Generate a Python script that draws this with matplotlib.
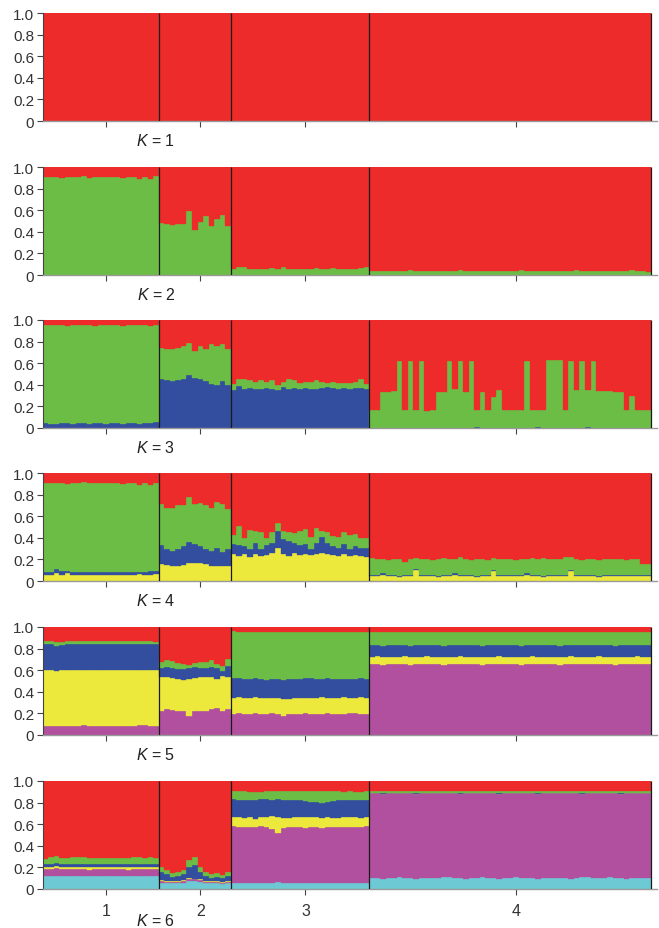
import numpy as np
import matplotlib.pyplot as plt

plt.rcParams['font.family'] = ['Liberation Sans', 'DejaVu Sans']
plt.rcParams['mathtext.fontset'] = 'custom'
plt.rcParams['mathtext.it'] = 'Liberation Sans:italic'
plt.rcParams['mathtext.rm'] = 'Liberation Sans'

GROUP_SIZES = [21, 13, 25, 51]
GROUP_LABELS = ['1', '2', '3', '4']
K_VALUES = [1, 2, 3, 4, 5, 6]

COLORS = {'red': '#EC2B2A', 'green': '#6BBD45', 'blue': '#334D9F',
          'yellow': '#EDE83C', 'magenta': '#B0509E', 'cyan': '#6DCAD5'}

# Cumulative upper edge of each cluster, bottom cluster first.
# The top cluster (red) always fills up to 1.

# K = 2
k2_green = ([0.91, 0.91, 0.91, 0.90, 0.91, 0.91, 0.91, 0.92, 0.90, 0.91, 0.91,
             0.91, 0.91, 0.91, 0.90, 0.91, 0.91, 0.89, 0.91, 0.89, 0.92]
            + [0.48, 0.47, 0.46, 0.47, 0.47, 0.59, 0.42, 0.49, 0.55, 0.45, 0.52, 0.56, 0.45]
            + [0.06, 0.07, 0.07, 0.06, 0.06, 0.06, 0.06, 0.065, 0.06, 0.07,
               0.055, 0.055, 0.06, 0.06, 0.06, 0.065, 0.06, 0.06, 0.065, 0.06,
               0.055, 0.055, 0.06, 0.065, 0.07]
            + [0.04, 0.035, 0.04, 0.04, 0.035, 0.04, 0.04, 0.045, 0.04, 0.035,
               0.04, 0.04, 0.04, 0.035, 0.04, 0.04, 0.045, 0.04, 0.04, 0.035,
               0.04, 0.04, 0.04, 0.035, 0.04, 0.04, 0.04, 0.045, 0.04, 0.035,
               0.04, 0.04, 0.04, 0.04, 0.035, 0.04, 0.04, 0.045, 0.04, 0.04,
               0.035, 0.04, 0.04, 0.04, 0.035, 0.04, 0.04, 0.045, 0.04, 0.04, 0.03])

# K = 3
k3_blue = ([0.05, 0.04, 0.04, 0.05, 0.05, 0.04, 0.05, 0.05, 0.04, 0.05, 0.05,
            0.04, 0.05, 0.05, 0.04, 0.05, 0.05, 0.04, 0.05, 0.05, 0.06]
           + [0.455, 0.44, 0.435, 0.44, 0.45, 0.495, 0.465, 0.455, 0.435, 0.41, 0.40, 0.435, 0.40]
           + [0.35, 0.39, 0.36, 0.37, 0.36, 0.36, 0.37, 0.36, 0.35, 0.38,
              0.36, 0.37, 0.36, 0.37, 0.36, 0.36, 0.37, 0.38, 0.37, 0.36,
              0.37, 0.36, 0.37, 0.37, 0.36]
           + [0.004, 0.004, 0.004, 0.004, 0.004, 0.004, 0.004, 0.004, 0.004, 0.004,
              0.004, 0.004, 0.004, 0.004, 0.004, 0.004, 0.004, 0.004, 0.004, 0.01,
              0.004, 0.004, 0.004, 0.004, 0.004, 0.004, 0.004, 0.004, 0.004, 0.004,
              0.01, 0.004, 0.004, 0.004, 0.004, 0.004, 0.004, 0.004, 0.004, 0.01,
              0.004, 0.004, 0.004, 0.004, 0.004, 0.004, 0.004, 0.004, 0.004, 0.004, 0.004])
k3_green = ([0.95, 0.95, 0.95, 0.95, 0.94, 0.95, 0.95, 0.95, 0.95, 0.94, 0.95,
             0.95, 0.95, 0.95, 0.94, 0.95, 0.95, 0.95, 0.95, 0.94, 0.95]
            + [0.745, 0.73, 0.735, 0.745, 0.755, 0.79, 0.715, 0.76, 0.73, 0.775, 0.76, 0.78, 0.73]
            + [0.41, 0.45, 0.45, 0.44, 0.43, 0.44, 0.43, 0.44, 0.40, 0.43,
               0.45, 0.44, 0.42, 0.43, 0.43, 0.44, 0.43, 0.42, 0.43, 0.42,
               0.42, 0.42, 0.43, 0.45, 0.41]
            + [0.17, 0.17, 0.33, 0.33, 0.34, 0.62, 0.17, 0.62, 0.17, 0.62,
               0.16, 0.17, 0.33, 0.33, 0.62, 0.36, 0.62, 0.33, 0.62, 0.17,
               0.33, 0.17, 0.29, 0.35, 0.17, 0.17, 0.17, 0.17, 0.62, 0.17,
               0.17, 0.17, 0.63, 0.63, 0.63, 0.17, 0.62, 0.35, 0.62, 0.35,
               0.62, 0.34, 0.34, 0.34, 0.33, 0.33, 0.17, 0.30, 0.17, 0.17, 0.17])

# K = 4
k4_yellow = ([0.06, 0.06, 0.07, 0.06, 0.07, 0.06, 0.06, 0.06, 0.06, 0.055, 0.06,
              0.06, 0.06, 0.06, 0.06, 0.06, 0.06, 0.065, 0.06, 0.06, 0.065]
             + [0.155, 0.145, 0.14, 0.14, 0.145, 0.17, 0.17, 0.165, 0.155, 0.14, 0.14, 0.135, 0.14]
             + [0.25, 0.23, 0.25, 0.225, 0.25, 0.23, 0.24, 0.26, 0.31, 0.25,
                0.23, 0.255, 0.24, 0.25, 0.24, 0.25, 0.26, 0.25, 0.24, 0.23,
                0.25, 0.23, 0.24, 0.23, 0.225]
             + [0.05, 0.05, 0.06, 0.05, 0.05, 0.04, 0.05, 0.05, 0.10, 0.05,
                0.05, 0.05, 0.04, 0.05, 0.05, 0.06, 0.05, 0.05, 0.05, 0.04,
                0.05, 0.05, 0.09, 0.05, 0.05, 0.05, 0.05, 0.05, 0.06, 0.05,
                0.05, 0.04, 0.05, 0.05, 0.05, 0.05, 0.09, 0.05, 0.05, 0.05,
                0.05, 0.04, 0.05, 0.05, 0.05, 0.05, 0.05, 0.05, 0.05, 0.05, 0.05])
k4_blue = ([0.08, 0.08, 0.11, 0.09, 0.09, 0.085, 0.085, 0.08, 0.08, 0.08, 0.085,
            0.08, 0.08, 0.085, 0.08, 0.085, 0.08, 0.085, 0.085, 0.09, 0.095]
           + [0.33, 0.30, 0.28, 0.295, 0.325, 0.36, 0.34, 0.32, 0.30, 0.28, 0.31, 0.27, 0.295]
           + [0.34, 0.33, 0.32, 0.30, 0.355, 0.30, 0.33, 0.355, 0.465, 0.385,
              0.37, 0.355, 0.33, 0.34, 0.295, 0.355, 0.41, 0.355, 0.32, 0.31,
              0.34, 0.30, 0.325, 0.31, 0.31]
           + [0.06, 0.06, 0.07, 0.06, 0.06, 0.05, 0.06, 0.06, 0.11, 0.06,
              0.06, 0.06, 0.05, 0.06, 0.06, 0.07, 0.06, 0.06, 0.06, 0.05,
              0.06, 0.06, 0.10, 0.06, 0.06, 0.06, 0.06, 0.06, 0.07, 0.06,
              0.06, 0.05, 0.06, 0.06, 0.06, 0.06, 0.10, 0.06, 0.06, 0.06,
              0.06, 0.05, 0.06, 0.06, 0.06, 0.06, 0.06, 0.06, 0.06, 0.06, 0.06])
k4_green = ([0.91, 0.91, 0.91, 0.91, 0.90, 0.91, 0.91, 0.92, 0.91, 0.91, 0.91,
             0.91, 0.91, 0.91, 0.90, 0.91, 0.91, 0.89, 0.91, 0.89, 0.91]
            + [0.71, 0.68, 0.68, 0.70, 0.70, 0.775, 0.71, 0.72, 0.70, 0.68, 0.735, 0.71, 0.67]
            + [0.425, 0.505, 0.395, 0.475, 0.465, 0.45, 0.395, 0.45, 0.54, 0.465,
               0.455, 0.445, 0.465, 0.48, 0.41, 0.495, 0.465, 0.45, 0.42, 0.41,
               0.455, 0.425, 0.435, 0.40, 0.40]
            + [0.21, 0.20, 0.20, 0.19, 0.20, 0.20, 0.18, 0.20, 0.21, 0.20,
               0.20, 0.19, 0.20, 0.21, 0.20, 0.20, 0.22, 0.20, 0.19, 0.20,
               0.20, 0.19, 0.21, 0.20, 0.20, 0.20, 0.19, 0.20, 0.20, 0.21,
               0.20, 0.21, 0.20, 0.20, 0.20, 0.22, 0.22, 0.20, 0.19, 0.20,
               0.20, 0.19, 0.20, 0.20, 0.20, 0.20, 0.19, 0.20, 0.20, 0.16, 0.16])

# K = 5
k5_magenta = ([0.085, 0.08, 0.085, 0.085, 0.08, 0.085, 0.085, 0.09, 0.085, 0.085, 0.085,
               0.085, 0.085, 0.085, 0.085, 0.085, 0.085, 0.09, 0.09, 0.085, 0.08]
              + [0.22, 0.24, 0.23, 0.225, 0.22, 0.18, 0.22, 0.225, 0.22, 0.24, 0.25, 0.22, 0.24]
              + [0.195, 0.20, 0.19, 0.195, 0.20, 0.19, 0.19, 0.20, 0.195, 0.18,
                 0.195, 0.19, 0.195, 0.20, 0.19, 0.195, 0.195, 0.20, 0.19, 0.195,
                 0.195, 0.20, 0.20, 0.195, 0.19]
              + [0.655, 0.655, 0.65, 0.655, 0.66, 0.655, 0.655, 0.65, 0.655, 0.655,
                 0.66, 0.655, 0.655, 0.65, 0.655, 0.655, 0.66, 0.655, 0.655, 0.655,
                 0.65, 0.655, 0.655, 0.66, 0.655, 0.655, 0.655, 0.65, 0.655, 0.66,
                 0.655, 0.655, 0.655, 0.655, 0.65, 0.655, 0.66, 0.655, 0.655, 0.655,
                 0.655, 0.66, 0.655, 0.655, 0.65, 0.655, 0.655, 0.655, 0.66, 0.655, 0.655])
k5_yellow = ([0.60, 0.60, 0.595, 0.60, 0.60, 0.60, 0.60, 0.60, 0.60, 0.60, 0.60,
              0.60, 0.60, 0.60, 0.605, 0.60, 0.60, 0.60, 0.60, 0.60, 0.60]
             + [0.535, 0.54, 0.525, 0.52, 0.51, 0.52, 0.525, 0.535, 0.54, 0.535, 0.52, 0.55, 0.535]
             + [0.34, 0.35, 0.34, 0.345, 0.35, 0.345, 0.34, 0.34, 0.345, 0.33,
                0.335, 0.345, 0.345, 0.34, 0.345, 0.345, 0.35, 0.345, 0.34, 0.345,
                0.35, 0.345, 0.345, 0.35, 0.345]
             + [0.725, 0.73, 0.725, 0.725, 0.72, 0.725, 0.73, 0.725, 0.725, 0.725,
                0.73, 0.725, 0.725, 0.72, 0.725, 0.725, 0.73, 0.725, 0.725, 0.725,
                0.72, 0.725, 0.725, 0.73, 0.725, 0.725, 0.725, 0.72, 0.725, 0.73,
                0.725, 0.725, 0.725, 0.725, 0.72, 0.725, 0.73, 0.725, 0.725, 0.725,
                0.725, 0.73, 0.725, 0.725, 0.72, 0.725, 0.725, 0.725, 0.73, 0.725, 0.725])
k5_blue = ([0.845, 0.845, 0.82, 0.835, 0.84, 0.84, 0.84, 0.845, 0.845, 0.84, 0.845,
            0.84, 0.845, 0.845, 0.84, 0.845, 0.84, 0.845, 0.845, 0.84, 0.84]
           + [0.625, 0.63, 0.62, 0.61, 0.61, 0.625, 0.63, 0.625, 0.62, 0.63, 0.62, 0.59, 0.64]
           + [0.525, 0.53, 0.52, 0.52, 0.525, 0.52, 0.51, 0.515, 0.52, 0.51,
              0.515, 0.52, 0.52, 0.525, 0.525, 0.52, 0.52, 0.525, 0.52, 0.52,
              0.52, 0.52, 0.52, 0.525, 0.52]
           + [0.83, 0.83, 0.825, 0.83, 0.835, 0.83, 0.83, 0.825, 0.83, 0.83,
              0.835, 0.83, 0.83, 0.825, 0.83, 0.83, 0.835, 0.83, 0.83, 0.83,
              0.825, 0.83, 0.83, 0.835, 0.83, 0.83, 0.83, 0.825, 0.83, 0.835,
              0.83, 0.83, 0.83, 0.83, 0.825, 0.83, 0.835, 0.83, 0.83, 0.83,
              0.83, 0.835, 0.83, 0.83, 0.825, 0.83, 0.83, 0.83, 0.835, 0.83, 0.83])
k5_green = ([0.875, 0.875, 0.86, 0.865, 0.87, 0.87, 0.87, 0.875, 0.875, 0.87, 0.875,
             0.875, 0.875, 0.875, 0.87, 0.875, 0.875, 0.875, 0.875, 0.87, 0.865]
            + [0.675, 0.69, 0.685, 0.665, 0.655, 0.65, 0.665, 0.675, 0.68, 0.69, 0.66, 0.64, 0.70]
            + [0.96, 0.955, 0.955, 0.955, 0.955, 0.955, 0.955, 0.955, 0.955, 0.955,
               0.955, 0.955, 0.955, 0.955, 0.955, 0.955, 0.955, 0.955, 0.955, 0.955,
               0.955, 0.955, 0.95, 0.955, 0.955]
            + [0.955, 0.955, 0.95, 0.955, 0.955, 0.955, 0.955, 0.95, 0.955, 0.955,
               0.955, 0.955, 0.955, 0.95, 0.955, 0.955, 0.955, 0.955, 0.955, 0.955,
               0.95, 0.955, 0.955, 0.955, 0.955, 0.955, 0.955, 0.95, 0.955, 0.955,
               0.955, 0.955, 0.955, 0.955, 0.95, 0.955, 0.955, 0.955, 0.955, 0.955,
               0.955, 0.955, 0.955, 0.955, 0.95, 0.955, 0.955, 0.955, 0.955, 0.955, 0.955])

# K = 6
k6_cyan = ([0.12, 0.12, 0.125, 0.12, 0.12, 0.12, 0.12, 0.12, 0.12, 0.12, 0.12,
            0.12, 0.12, 0.12, 0.12, 0.12, 0.12, 0.12, 0.12, 0.12, 0.12]
           + [0.058, 0.052, 0.052, 0.052, 0.058, 0.077, 0.077, 0.068, 0.058, 0.052, 0.052, 0.043, 0.052]
           + [0.055, 0.06, 0.06, 0.055, 0.06, 0.06, 0.055, 0.06, 0.065, 0.06,
              0.055, 0.06, 0.06, 0.055, 0.06, 0.06, 0.06, 0.055, 0.06, 0.06,
              0.06, 0.055, 0.06, 0.06, 0.055]
           + [0.10, 0.10, 0.095, 0.10, 0.10, 0.115, 0.10, 0.10, 0.095, 0.10,
              0.10, 0.10, 0.10, 0.115, 0.11, 0.10, 0.10, 0.095, 0.10, 0.10,
              0.11, 0.10, 0.10, 0.095, 0.10, 0.10, 0.115, 0.10, 0.10, 0.10,
              0.095, 0.10, 0.10, 0.10, 0.10, 0.10, 0.095, 0.10, 0.115, 0.11,
              0.10, 0.10, 0.10, 0.11, 0.10, 0.10, 0.095, 0.10, 0.10, 0.10, 0.10])
k6_magenta = ([0.185, 0.185, 0.19, 0.185, 0.185, 0.185, 0.185, 0.185, 0.18, 0.185, 0.185,
               0.185, 0.185, 0.185, 0.185, 0.18, 0.185, 0.185, 0.185, 0.185, 0.185]
              + [0.074, 0.068, 0.068, 0.068, 0.074, 0.092, 0.089, 0.083, 0.068, 0.065, 0.065, 0.058, 0.068]
              + [0.58, 0.575, 0.575, 0.57, 0.575, 0.58, 0.575, 0.56, 0.515, 0.565,
                 0.57, 0.575, 0.57, 0.565, 0.57, 0.575, 0.565, 0.57, 0.575, 0.57,
                 0.57, 0.575, 0.57, 0.575, 0.58]
              + [0.885, 0.885, 0.88, 0.885, 0.885, 0.885, 0.885, 0.885, 0.88, 0.885,
                 0.885, 0.885, 0.885, 0.885, 0.885, 0.885, 0.88, 0.885, 0.885, 0.885,
                 0.885, 0.885, 0.885, 0.88, 0.885, 0.885, 0.885, 0.885, 0.885, 0.885,
                 0.88, 0.885, 0.885, 0.885, 0.885, 0.885, 0.885, 0.885, 0.88, 0.885,
                 0.885, 0.885, 0.885, 0.885, 0.885, 0.88, 0.885, 0.885, 0.885, 0.885, 0.885])
k6_yellow = ([0.205, 0.205, 0.215, 0.205, 0.205, 0.205, 0.205, 0.205, 0.20, 0.205, 0.205,
              0.205, 0.205, 0.205, 0.205, 0.20, 0.205, 0.205, 0.205, 0.205, 0.205]
             + [0.080, 0.074, 0.074, 0.074, 0.080, 0.098, 0.095, 0.089, 0.074, 0.071, 0.071, 0.064, 0.074]
             + [0.665, 0.67, 0.66, 0.67, 0.645, 0.665, 0.67, 0.675, 0.67, 0.66,
                0.655, 0.665, 0.67, 0.665, 0.67, 0.665, 0.66, 0.665, 0.655, 0.66,
                0.665, 0.67, 0.665, 0.66, 0.67]
             + [0.888, 0.888, 0.883, 0.888, 0.888, 0.888, 0.888, 0.888, 0.883, 0.888,
                0.888, 0.888, 0.888, 0.888, 0.888, 0.888, 0.883, 0.888, 0.888, 0.888,
                0.888, 0.888, 0.888, 0.883, 0.888, 0.888, 0.888, 0.888, 0.888, 0.888,
                0.883, 0.888, 0.888, 0.888, 0.888, 0.888, 0.888, 0.888, 0.883, 0.888,
                0.888, 0.888, 0.888, 0.888, 0.888, 0.883, 0.888, 0.888, 0.888, 0.888, 0.888])
k6_blue = ([0.235, 0.235, 0.24, 0.235, 0.235, 0.235, 0.235, 0.235, 0.23, 0.235, 0.235,
            0.235, 0.235, 0.235, 0.235, 0.23, 0.235, 0.235, 0.235, 0.235, 0.235]
           + [0.16, 0.135, 0.114, 0.123, 0.135, 0.206, 0.222, 0.16, 0.123, 0.098, 0.111, 0.098, 0.123]
           + [0.83, 0.825, 0.82, 0.82, 0.825, 0.83, 0.83, 0.82, 0.83, 0.825,
              0.82, 0.825, 0.82, 0.815, 0.81, 0.805, 0.80, 0.81, 0.815, 0.82,
              0.825, 0.82, 0.82, 0.825, 0.82]
           + [0.892, 0.892, 0.887, 0.892, 0.892, 0.892, 0.892, 0.892, 0.887, 0.892,
              0.892, 0.892, 0.892, 0.892, 0.892, 0.892, 0.887, 0.892, 0.892, 0.892,
              0.892, 0.892, 0.892, 0.887, 0.892, 0.892, 0.892, 0.892, 0.892, 0.892,
              0.887, 0.892, 0.892, 0.892, 0.892, 0.892, 0.892, 0.892, 0.887, 0.892,
              0.892, 0.892, 0.892, 0.892, 0.892, 0.887, 0.892, 0.892, 0.892, 0.892, 0.892])
k6_green = ([0.28, 0.30, 0.305, 0.29, 0.29, 0.295, 0.30, 0.295, 0.29, 0.285, 0.29,
             0.285, 0.29, 0.29, 0.285, 0.29, 0.295, 0.295, 0.29, 0.295, 0.29]
            + [0.206, 0.175, 0.145, 0.154, 0.175, 0.268, 0.298, 0.206, 0.16, 0.135, 0.145, 0.129, 0.16]
            + [0.91, 0.905, 0.91, 0.895, 0.895, 0.90, 0.905, 0.905, 0.91, 0.91,
               0.905, 0.905, 0.905, 0.91, 0.905, 0.905, 0.905, 0.91, 0.905, 0.905,
               0.90, 0.905, 0.90, 0.895, 0.905]
            + [0.91, 0.91, 0.905, 0.91, 0.91, 0.91, 0.91, 0.91, 0.905, 0.91,
               0.91, 0.91, 0.91, 0.91, 0.91, 0.91, 0.905, 0.91, 0.91, 0.91,
               0.91, 0.91, 0.91, 0.905, 0.91, 0.91, 0.91, 0.91, 0.91, 0.91,
               0.905, 0.91, 0.91, 0.91, 0.91, 0.91, 0.91, 0.91, 0.905, 0.91,
               0.91, 0.91, 0.91, 0.91, 0.91, 0.905, 0.91, 0.91, 0.91, 0.91, 0.91])

PANELS = [
    [],
    [('green', k2_green)],
    [('blue', k3_blue), ('green', k3_green)],
    [('yellow', k4_yellow), ('blue', k4_blue), ('green', k4_green)],
    [('magenta', k5_magenta), ('yellow', k5_yellow), ('blue', k5_blue), ('green', k5_green)],
    [('cyan', k6_cyan), ('magenta', k6_magenta), ('yellow', k6_yellow),
     ('blue', k6_blue), ('green', k6_green)],
]

N = sum(GROUP_SIZES)
edges = np.cumsum(GROUP_SIZES)
starts = edges - np.array(GROUP_SIZES)
tick_pos = starts + np.array(GROUP_SIZES) / 2 + 1

W, H = 659, 929
fig = plt.figure(figsize=(W / 100, H / 100), dpi=100)

panel_top_px = [14, 168, 321, 474, 628, 782]
panel_h_px = 108
label_y_px = [141, 295, 448, 601, 755, 921]

x = np.arange(N)
for i, layers in enumerate(PANELS):
    ax = fig.add_axes([42.5 / W, 1 - (panel_top_px[i] + panel_h_px) / H,
                       614.5 / W, panel_h_px / H])
    bottom = np.zeros(N)
    for name, top in layers + [('red', np.ones(N))]:
        top = np.asarray(top, dtype=float)
        assert len(top) == N, (i, name, len(top))
        ax.bar(x, top - bottom, bottom=bottom, width=1.0, align='edge',
               color=COLORS[name], edgecolor=COLORS[name], linewidth=0.25)
        bottom = top
    ax.vlines(edges, 0, 1, color='#1a1a1a', linewidth=0.9, zorder=3)

    ax.set_xlim(0, 111)
    ax.set_ylim(0, 1)
    for s in ['top', 'right']:
        ax.spines[s].set_visible(False)
    ax.spines['left'].set_color('#444444')
    ax.spines['left'].set_linewidth(0.8)
    ax.spines['bottom'].set_color('#999999')
    ax.spines['bottom'].set_linewidth(1.0)

    ax.set_yticks([0, 0.2, 0.4, 0.6, 0.8, 1.0])
    ax.set_yticklabels(['0', '0.2', '0.4', '0.6', '0.8', '1.0'])
    ax.set_xticks(tick_pos)
    if i == len(PANELS) - 1:
        ax.set_xticklabels(GROUP_LABELS)
    else:
        ax.set_xticklabels([])
    ax.tick_params(axis='y', length=4, width=0.8, color='#444444',
                   labelsize=11, labelcolor='#333333', pad=2)
    ax.tick_params(axis='x', length=4, width=0.8, color='#444444',
                   labelsize=11.5, labelcolor='#333333', pad=6)

    fig.text(156 / W, 1 - label_y_px[i] / H, r'$K$ = %d' % K_VALUES[i],
             ha='center', va='center', fontsize=11.5, color='#222222')

fig.savefig('out.png', dpi=100)
